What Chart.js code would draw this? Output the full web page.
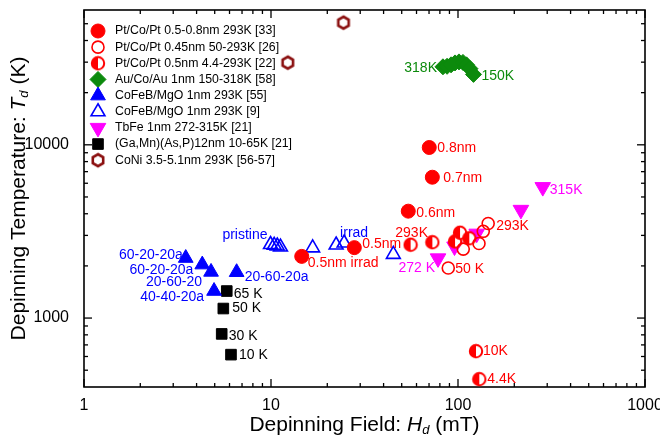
<!DOCTYPE html>
<html><head><meta charset="utf-8">
<script src="https://cdn.jsdelivr.net/npm/chart.js@4/dist/chart.umd.min.js"></script>
<style>html,body{margin:0;padding:0;background:#fff}canvas{display:block}</style>
</head><body>
<canvas id="c" width="660" height="445"></canvas>
<script>
// ---------- data ----------
const ptcoptThickH = [70.2, 72.9, 54.2, 27.9, 14.6];
const ptcoptThickT = [9650, 6500, 4140, 2550, 2270];
const ptcoptThinH = [145, 136.5, 129.5, 106.7, 88.7];
const ptcoptThinT = [3515, 3167, 2693, 2500, 1946];
const ptcoptHalfH = [55.8, 72.9, 96.4, 102.5, 114.9, 124.8, 130];
const ptcoptHalfT = [2650, 2740, 2770, 3110, 2888, 644, 444];
const aucoauH = [83.1, 87.4, 91.8, 96.4, 101.2, 106.3, 111, 115.9, 121];
const aucoauT = [28200, 28400, 28950, 29700, 30100, 29900, 28950, 27500, 25500];
const cofebIrrH = [3.50, 4.29, 4.78, 6.55, 4.96];
const cofebIrrT = [2220, 2035, 1846, 1839, 1432];
const cofebH = [9.94, 10.4, 10.8, 11.24, 16.7, 22.3, 24.6, 45.1];
const cofebT = [2658, 2630, 2606, 2570, 2540, 2640, 2712, 2330];
const tbfeH = [78.2, 95.8, 125.9, 217, 284];
const tbfeT = [2211, 2588, 3070, 4213, 5700];
const gamnasH = [5.80, 5.56, 5.45, 6.11];
const gamnasT = [1432, 1135, 810, 615];
const coniH = [24.4, 12.3];
const coniT = [50700, 29800];

const seriesNames = [
  'Pt/Co/Pt 0.5-0.8nm 293K [33]',
  'Pt/Co/Pt 0.45nm 50-293K [26]',
  'Pt/Co/Pt 0.5nm 4.4-293K [22]',
  'Au/Co/Au 1nm 150-318K [58]',
  'CoFeB/MgO 1nm 293K [55]',
  'CoFeB/MgO 1nm 293K [9]',
  'TbFe 1nm 272-315K [21]',
  '(Ga,Mn)(As,P)12nm 10-65K [21]',
  'CoNi 3.5-5.1nm 293K [56-57]'
];
const xTickValues = [1, 10, 100, 1000];
const xTickLabels = ['1', '10', '100', '1000'];
const yTickValues = [1000, 10000];
const yTickLabels = ['1000', '10000'];

// text notes attached to points (series index, point index)
const notes = [
  {text:'60-20-20a', set:4, i:0, dx:-3, dy:-3, align:'right'},
  {text:'60-20-20a', set:4, i:1, dx:-9, dy:6, align:'right'},
  {text:'20-60-20', set:4, i:2, dx:-9, dy:10, align:'right'},
  {text:'40-40-20a', set:4, i:4, dx:-10, dy:6, align:'right'},
  {text:'20-60-20a', set:4, i:3, dx:8, dy:5, align:'left'},
  {text:'pristine', set:5, i:0, dx:-3, dy:-9, align:'right'},
  {text:'irrad', set:5, i:6, dx:-4, dy:-10, align:'left'},
  {text:'0.8nm', set:0, i:0, dx:8, dy:1},
  {text:'0.7nm', set:0, i:1, dx:11, dy:1},
  {text:'0.6nm', set:0, i:2, dx:8, dy:2},
  {text:'0.5nm', set:0, i:3, dx:8, dy:-3},
  {text:'0.5nm irrad', set:0, i:4, dx:6, dy:7},
  {text:'293K', set:2, i:0, dx:1, dy:-12, align:'center'},
  {text:'293K', set:1, i:0, dx:8, dy:3},
  {text:'50 K', set:1, i:4, dx:7, dy:1},
  {text:'10K', set:2, i:5, dx:7, dy:0},
  {text:'4.4K', set:2, i:6, dx:8, dy:0},
  {text:'272 K', set:6, i:0, dx:-3, dy:10, align:'right'},
  {text:'315K', set:6, i:4, dx:7, dy:3},
  {text:'318K', set:3, i:0, dx:-6, dy:1.5, align:'right'},
  {text:'150K', set:3, i:8, dx:8, dy:2},
  {text:'65 K', set:7, i:0, dx:7, dy:3},
  {text:'50 K', set:7, i:1, dx:9, dy:0},
  {text:'30 K', set:7, i:2, dx:7, dy:2},
  {text:'10 K', set:7, i:3, dx:8, dy:1}
];

// ---------- custom marker images ----------
const RED = '#ff0000', GREEN = '#0c8a0c', BLUE = '#0000ff', MAG = '#ff00ff', BLK = '#000000', HEX = '#8b1010';
function halfCircle() {
  const c = document.createElement('canvas'); c.width = 16; c.height = 16;
  const g = c.getContext('2d'); const r = 6.2;
  g.beginPath(); g.arc(8, 8, r, 0, Math.PI * 2); g.fillStyle = '#fff'; g.fill();
  g.beginPath(); g.arc(8, 8, r, Math.PI / 2, Math.PI * 1.5); g.closePath(); g.fillStyle = RED; g.fill();
  g.beginPath(); g.arc(8, 8, r, 0, Math.PI * 2); g.lineWidth = 2; g.strokeStyle = RED; g.stroke();
  return c;
}
function hexagon() {
  const c = document.createElement('canvas'); c.width = 18; c.height = 18;
  const g = c.getContext('2d'); const r = 6;
  g.beginPath();
  for (let k = 0; k < 6; k++) { const a = -Math.PI / 2 + k * Math.PI / 3; const px = 9 + r * Math.cos(a), py = 9 + r * Math.sin(a); k ? g.lineTo(px, py) : g.moveTo(px, py); }
  g.closePath(); g.lineWidth = 2.6; g.strokeStyle = HEX; g.stroke();
  return c;
}
const HALF = halfCircle(), HEXI = hexagon();

const styles = [
  {h:ptcoptThickH, t:ptcoptThickT, ps:'circle', r:7, fill:RED, stroke:RED, bw:1, rot:0, color:RED},
  {h:ptcoptThinH, t:ptcoptThinT, ps:'circle', r:6, fill:'rgba(0,0,0,0)', stroke:RED, bw:1.6, rot:0, color:RED},
  {h:ptcoptHalfH, t:ptcoptHalfT, ps:HALF, r:7, fill:RED, stroke:RED, bw:0, rot:0, color:RED},
  {h:aucoauH, t:aucoauT, ps:'rectRot', r:8, fill:GREEN, stroke:GREEN, bw:1, rot:0, color:GREEN},
  {h:cofebIrrH, t:cofebIrrT, ps:'triangle', r:8.5, fill:BLUE, stroke:BLUE, bw:1, rot:0, color:BLUE},
  {h:cofebH, t:cofebT, ps:'triangle', r:8, fill:'rgba(0,0,0,0)', stroke:BLUE, bw:1.6, rot:0, color:BLUE},
  {h:tbfeH, t:tbfeT, ps:'triangle', r:9, fill:MAG, stroke:MAG, bw:1, rot:180, color:MAG},
  {h:gamnasH, t:gamnasT, ps:'rect', r:7.5, fill:BLK, stroke:BLK, bw:1, rot:0, color:BLK},
  {h:coniH, t:coniT, ps:HEXI, r:7, fill:HEX, stroke:HEX, bw:0, rot:0, color:HEX}
];

const FONT = '"Liberation Sans", Arial, sans-serif';

const datasets = styles.map((s, k) => ({
  label: seriesNames[k],
  data: s.h.map((v, i) => ({x: v, y: s.t[i]})),
  pointStyle: s.ps, pointRadius: s.r, pointRotation: s.rot,
  pointBackgroundColor: s.fill, pointBorderColor: s.stroke, pointBorderWidth: s.bw,
  showLine: false, order: 0
}));

function minorValues(lo, hi) {
  const out = [];
  for (let d = Math.floor(Math.log10(lo)); d <= Math.ceil(Math.log10(hi)); d++) {
    for (let m = 2; m <= 9; m++) { const v = m * Math.pow(10, d); if (v > lo && v < hi) out.push(v); }
  }
  return out;
}

const framePlugin = {
  id: 'frame',
  beforeDatasetsDraw(chart) {
    const {ctx, chartArea: a, scales: {x, y}} = chart;
    ctx.save();
    ctx.strokeStyle = '#000';
    ctx.lineWidth = 1.6;
    ctx.strokeRect(a.left, a.top, a.right - a.left, a.bottom - a.top);
    ctx.lineWidth = 1.3;
    const seg = (x1, y1, x2, y2) => { ctx.beginPath(); ctx.moveTo(x1, y1); ctx.lineTo(x2, y2); ctx.stroke(); };
    xTickValues.forEach(v => { const p = x.getPixelForValue(v); seg(p, a.bottom, p, a.bottom - 8); seg(p, a.top, p, a.top + 8); });
    minorValues(1, 1000).forEach(v => { const p = x.getPixelForValue(v); seg(p, a.bottom, p, a.bottom - 4); seg(p, a.top, p, a.top + 4); });
    yTickValues.forEach(v => { const p = y.getPixelForValue(v); seg(a.left, p, a.left + 8, p); seg(a.right, p, a.right - 8, p); });
    minorValues(400, 60000).forEach(v => { const p = y.getPixelForValue(v); seg(a.left, p, a.left + 4, p); seg(a.right, p, a.right - 4, p); });
    ctx.restore();
  },
  afterDatasetsDraw(chart) {
    const {ctx, chartArea: a} = chart;
    ctx.save();
    // notes
    ctx.font = '14px ' + FONT;
    ctx.textBaseline = 'middle';
    notes.forEach(n => {
      const el = chart.getDatasetMeta(n.set).data[n.i];
      ctx.fillStyle = styles[n.set].color;
      ctx.textAlign = n.align || 'left';
      ctx.fillText(n.text, el.x + n.dx, el.y + n.dy);
    });
    // legend
    ctx.font = '12.3px ' + FONT;
    ctx.textAlign = 'left';
    seriesNames.forEach((name, k) => {
      const s = styles[k];
      const yy = a.top + 21 + k * 16.15;
      ctx.fillStyle = s.fill; ctx.strokeStyle = s.stroke; ctx.lineWidth = s.bw;
      Chart.helpers.drawPoint(ctx, {pointStyle: s.ps, radius: s.r, rotation: s.rot, borderWidth: s.bw}, a.left + 14, yy);
      ctx.fillStyle = '#000';
      ctx.fillText(name, a.left + 31, yy);
    });
    ctx.restore();
  },
  afterDraw(chart) {
    const {ctx, chartArea: a} = chart;
    const rich = (segs, cx, cy) => {
      let w = 0;
      segs.forEach(s => { ctx.font = s.f; w += ctx.measureText(s.t).width; });
      let xx = cx - w / 2;
      segs.forEach(s => { ctx.font = s.f; ctx.fillText(s.t, xx, cy + (s.dy || 0)); xx += ctx.measureText(s.t).width; });
    };
    ctx.save();
    ctx.fillStyle = '#000'; ctx.textBaseline = 'middle'; ctx.textAlign = 'left';
    const N = '21px ' + FONT, I = 'italic 21px ' + FONT, S = 'italic 13px ' + FONT;
    rich([{t:'Depinning Field: ', f:N}, {t:'H', f:I}, {t:'d', f:S, dy:5}, {t:' (mT)', f:N}], (a.left + a.right) / 2, 425);
    ctx.translate(19, (a.top + a.bottom) / 2);
    ctx.rotate(-Math.PI / 2);
    rich([{t:'Depinning Temperature: ', f:N}, {t:'T', f:I}, {t:'d', f:S, dy:5}, {t:' (K)', f:N}], 0, 0);
    ctx.restore();
  }
};

new Chart(document.getElementById('c'), {
  type: 'scatter',
  data: {datasets},
  plugins: [framePlugin],
  options: {
    responsive: false, animation: false, events: [],
    devicePixelRatio: 1,
    layout: {padding: {top: 4, right: 15, left: 0, bottom: 0}},
    plugins: {legend: {display: false}, tooltip: {enabled: false}},
    scales: {
      x: {
        type: 'logarithmic', min: 1, max: 1000,
        grid: {display: false, drawTicks: false}, border: {display: false},
        ticks: {color: '#000', font: {size: 16, family: FONT}, padding: 9, autoSkip: false, maxRotation: 0,
                callback: (v, i) => xTickLabels[i]},
        afterBuildTicks: s => { s.ticks = xTickValues.map(v => ({value: v})); },
        afterFit: s => { s.height = 58; s.paddingLeft = 0; s.paddingRight = 0; }
      },
      y: {
        type: 'logarithmic', min: 400, max: 60000,
        grid: {display: false, drawTicks: false}, border: {display: false},
        ticks: {color: '#000', font: {size: 16, family: FONT}, padding: 15, autoSkip: false,
                callback: (v, i) => yTickLabels[i]},
        afterBuildTicks: s => { s.ticks = yTickValues.map(v => ({value: v})); },
        afterFit: s => { s.width = 84; s.paddingTop = 0; s.paddingBottom = 0; }
      }
    }
  }
});
</script>
</body></html>
